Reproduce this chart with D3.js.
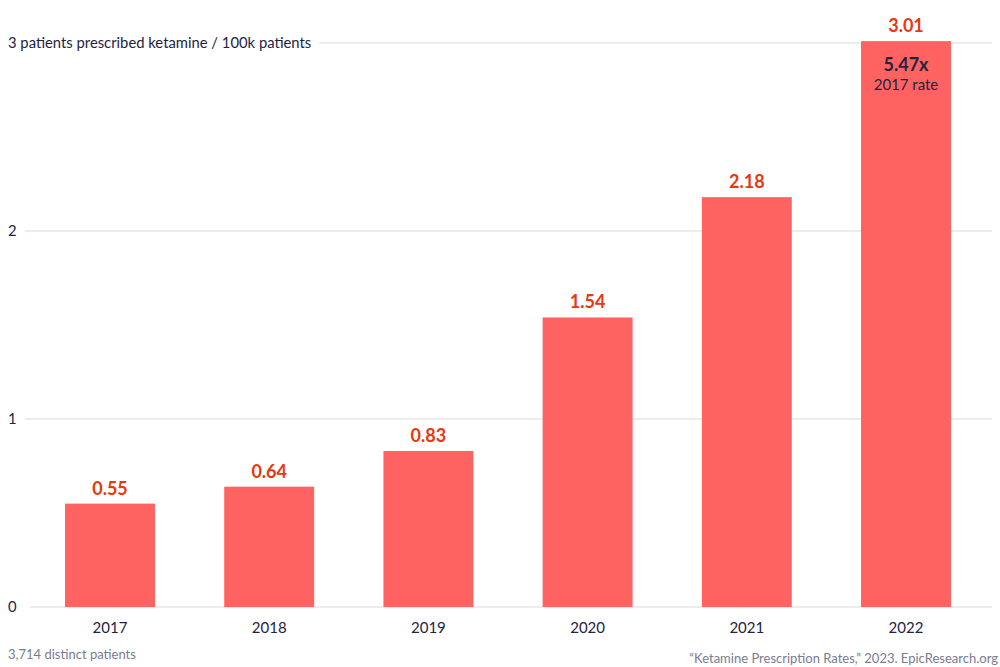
<!DOCTYPE html>
<html>
<head>
<meta charset="utf-8">
<script src="https://cdn.jsdelivr.net/npm/d3@7"></script>
<style>
  body { margin: 0; background: #fff; }
  svg { font-family: Lato, "Open Sans", sans-serif; }
</style>
</head>
<body>
<div id="chart"></div>
<script>
var years = ["2017", "2018", "2019", "2020", "2021", "2022"]
var rates = [0.55, 0.64, 0.83, 1.54, 2.18, 3.01]
var yTicks = [0, 1, 2, 3]
var tickLabels = ["0", "1", "2", "3 patients prescribed ketamine / 100k patients"]

var width = 1000
var height = 667

var svg = d3.select("#chart").append("svg")
  .attr("width", width)
  .attr("height", height)

var x = d3.scaleBand()
  .domain(years)
  .range([30, 986])
  .paddingInner(0.435)
  .paddingOuter(0.22)

var y = d3.scaleLinear()
  .domain([0, 3])
  .range([607, 43])

// gridlines + y labels
var grid = svg.append("g")
yTicks.forEach(function(t, i) {
  var label = grid.append("text")
    .attr("x", 8)
    .attr("y", y(t))
    .attr("dy", "0.35em")
    .attr("font-size", 14.8)
    .attr("fill", "#23233f")
    .text(tickLabels[i])
  var w = label.node().getComputedTextLength()
  grid.append("line")
    .attr("x1", i == 0 ? 30 : 8 + w + 8)
    .attr("x2", 992)
    .attr("y1", y(t))
    .attr("y2", y(t))
    .attr("stroke", "#d9d9d9")
    .attr("stroke-width", 1)
})

// bars
svg.append("g").selectAll("rect")
  .data(rates)
  .enter().append("rect")
  .attr("x", function(d, i) { return x(years[i]) })
  .attr("y", function(d) { return y(d) })
  .attr("width", x.bandwidth())
  .attr("height", function(d) { return y(0) - y(d) })
  .attr("fill", "#ff6361")

// value labels
svg.append("g").selectAll("text")
  .data(rates)
  .enter().append("text")
  .attr("x", function(d, i) { return x(years[i]) + x.bandwidth() / 2 })
  .attr("y", function(d) { return y(d) - 9 })
  .attr("text-anchor", "middle")
  .attr("font-size", 18)
  .attr("font-weight", "bold")
  .attr("fill", "#e8380d")
  .text(function(d) { return d.toFixed(2) })

// x axis labels
svg.append("g").selectAll("text")
  .data(years)
  .enter().append("text")
  .attr("x", function(d) { return x(d) + x.bandwidth() / 2 })
  .attr("y", 633)
  .attr("text-anchor", "middle")
  .attr("font-size", 15)
  .attr("fill", "#23233f")
  .text(function(d) { return d })

// annotation on last bar
var last = years[years.length - 1]
var ratio = rates[rates.length - 1] / rates[0]
svg.append("text")
  .attr("x", x(last) + x.bandwidth() / 2)
  .attr("y", 71)
  .attr("text-anchor", "middle")
  .attr("font-size", 18)
  .attr("font-weight", "bold")
  .attr("fill", "#23233f")
  .text(ratio.toFixed(2) + "x")
svg.append("text")
  .attr("x", x(last) + x.bandwidth() / 2)
  .attr("y", 90)
  .attr("text-anchor", "middle")
  .attr("font-size", 15)
  .attr("fill", "#23233f")
  .text(years[0] + " rate")

// footer
svg.append("text")
  .attr("x", 8)
  .attr("y", 659)
  .attr("font-size", 13)
  .attr("fill", "#7b7b8e")
  .text("3,714 distinct patients")
svg.append("text")
  .attr("x", 998)
  .attr("y", 663)
  .attr("text-anchor", "end")
  .attr("font-size", 13)
  .attr("fill", "#7b7b8e")
  .text("\u201cKetamine Prescription Rates,\u201d 2023. EpicResearch.org")
</script>
</body>
</html>
